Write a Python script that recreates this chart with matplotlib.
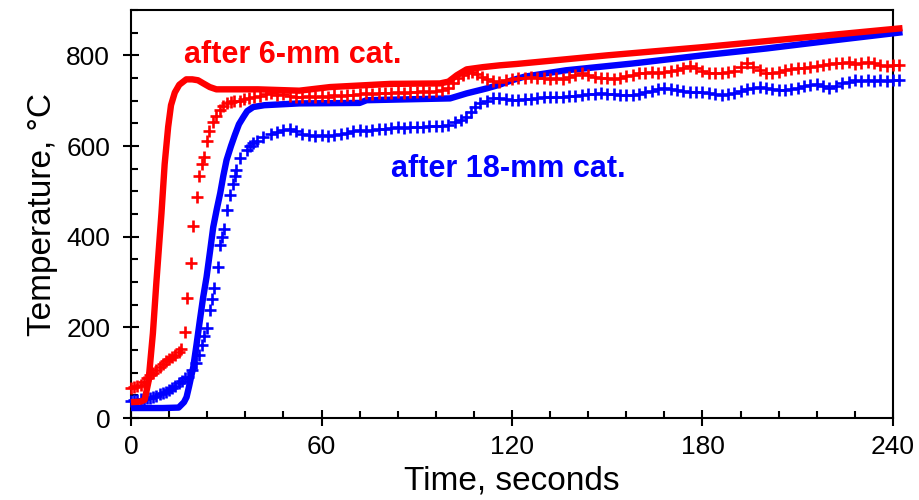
import matplotlib
matplotlib.use("Agg")
import matplotlib.pyplot as plt
from matplotlib.ticker import MultipleLocator

plt.rcParams['font.family'] = ['Liberation Sans', 'DejaVu Sans']

# ---- data (time in s, temperature in C) ----
red_line_t = [0, 3, 4.3, 5.5, 6.9, 8, 9.6, 10.6, 11.7, 12.6, 13.8, 15.2, 17.4, 19.3, 21.1, 22.8, 24.8, 26.9,
              40, 53, 62.7, 81.6, 97.3, 100, 102.6, 105.7, 110.9, 116.2, 121.5, 150, 180, 210, 243]
red_line_T = [35, 36, 40, 80, 187, 300, 452, 560, 642, 690, 718, 735, 747, 747, 745, 738, 730, 725,
              725, 722, 730, 737, 738, 742, 756, 769, 774, 778, 781, 800, 818, 838, 860]

blue_line_t = [0, 5, 10, 15, 16.7, 17.5, 18.3, 19.6, 20.6, 21.7, 22.7, 23.8, 24.9, 25.9, 27, 28.1, 29.1,
               30.1, 31.5, 32.7, 34, 35.4, 36.6, 38.5, 42, 53, 72, 74.2, 100.5, 105.7, 112, 116, 120,
               124, 137, 158, 180, 200, 220, 243]
blue_line_T = [22, 22, 22, 23, 35, 46, 70, 112, 160, 216, 265, 311, 368, 421, 460, 496, 535,
               569, 600, 624, 648, 664, 677, 686, 690, 694, 695, 701, 705, 716, 727, 735, 745,
               753, 767, 782, 800, 815, 832, 851]

red_plus_t = [0, 1, 2, 3, 4, 5, 6, 7, 8, 9, 10, 11, 12, 13, 14, 15, 15.9, 16.9, 17.6, 18.8, 19.4, 20.8,
              21.3, 22.3, 23.0, 23.8, 24.6, 25.9, 26.9, 28.0, 29.1, 30.1, 31.5, 32.5, 34.2, 35.6, 37.1,
              38.6, 40.6, 42.6,
              44, 46, 48, 50, 52, 54, 56, 58, 60, 62, 64, 66, 68, 70, 72, 74, 76, 78, 80, 82, 84, 86,
              88, 90, 92, 94, 96, 98, 100, 101.5, 103, 104.5, 106, 107.5, 109, 110.5, 112, 114, 116,
              118, 120, 122, 124, 126, 128, 130, 132, 134, 136, 138, 140, 142, 144, 146, 148, 150,
              152, 154, 156, 158, 160, 162, 164, 166, 168, 170, 172, 174, 176, 178, 180, 182, 184,
              186, 188, 190, 192, 194, 196, 198, 200, 202, 204, 206, 208, 210, 212, 214, 216, 218,
              220, 222, 224, 226, 228, 230, 232, 234, 236, 238, 240, 242]
red_plus_T = [66, 68, 70, 72, 80, 88, 95, 100, 106, 113, 120, 125, 130, 135, 140, 146, 152, 190, 264,
              343, 423, 487, 533, 560, 575, 610, 632, 652, 667, 679, 688, 694, 697, 699, 700, 703, 706,
              708, 711, 714,
              716, 713, 714, 710, 708, 709, 711, 708, 711, 709, 712, 710, 712, 713, 714, 716, 714,
              717, 716, 718, 719, 717, 720, 719, 721, 720, 722, 723, 728, 740, 750, 756, 761, 763,
              758, 752, 748, 744, 742, 745, 748, 750, 751, 752, 749, 751, 748, 750, 748, 752, 756,
              760, 756, 752, 749, 750, 748, 751, 754, 757, 760, 762, 763, 760, 763, 765, 768, 772,
              776, 772, 766, 762, 760, 762, 763, 766, 775, 782, 775, 767, 762, 760, 764, 767, 769,
              771, 772, 774, 776, 778, 780, 782, 784, 785, 781, 783, 785, 782, 779, 777, 778, 778]

blue_plus_t = [0, 1, 2, 3, 4, 5, 6, 7, 8, 9, 10, 11, 12, 13, 14, 15, 16, 17, 18, 19.3, 20.6, 21.5,
               22.3, 23.0, 23.8, 24.9, 25.6, 26.2, 27.3, 28.1, 28.7, 29.4, 30.1, 31.2, 32.0, 32.6,
               33.2, 34.4, 36.4, 37.4, 38.5, 39.7, 41.6,
               44, 46, 48, 50, 52, 54, 56, 58, 60, 62, 64, 66, 68, 70, 72, 74, 76, 78, 80, 82, 84, 86,
               88, 90, 92, 94, 96, 98, 100, 102, 104, 105.5, 107, 108.5, 110, 112, 114, 116, 118, 120,
               122, 124, 126, 128, 130, 132, 134, 136, 138, 140, 142, 144, 146, 148, 150, 152, 154,
               156, 158, 160, 162, 164, 166, 168, 170, 172, 174, 176, 178, 180, 182, 184, 186, 188,
               190, 192, 194, 196, 198, 200, 202, 204, 206, 208, 210, 212, 214, 216, 218, 220, 222,
               224, 226, 228, 230, 232, 234, 236, 238, 240, 242]
blue_plus_T = [38, 40, 40, 42, 43, 44, 45, 46, 49, 52, 55, 58, 61, 66, 71, 77, 82, 88, 91, 105, 121,
               140, 161, 180, 198, 238, 262, 286, 333, 381, 400, 418, 458, 491, 516, 533, 547, 573,
               591, 599, 606, 612, 619,
               627, 631, 635, 638, 632, 626, 624, 623, 624, 623, 624, 626, 628, 632, 635, 634, 636,
               637, 638, 640, 642, 640, 641, 643, 642, 644, 645, 645, 646, 652, 658, 664, 674, 685,
               694, 700, 705, 705, 703, 701, 701, 703, 704, 706, 707, 708, 707, 709, 710, 711, 713,
               714, 715, 716, 715, 714, 713, 712, 712, 715, 719, 722, 725, 727, 725, 723, 721, 720,
               719, 719, 717, 714, 712, 714, 718, 722, 726, 729, 730, 728, 726, 724, 723, 726, 729,
               732, 735, 737, 732, 728, 733, 738, 742, 745, 744, 745, 744, 745, 744, 745, 745]

x_ticks = [0, 60, 120, 180, 240]
y_ticks = [0, 200, 400, 600, 800]
label_6mm = "after 6-mm cat."
label_18mm = "after 18-mm cat."

RED = "#ff0000"
BLUE = "#0000ff"

fig = plt.figure(figsize=(9.2, 5.0), dpi=100)
ax = fig.add_axes([131/920, 82/500, 762/920, 408/500])

ax.plot(blue_line_t, blue_line_T, color=BLUE, lw=4.6, solid_capstyle='butt', clip_on=False, zorder=3)
ax.plot(blue_plus_t, blue_plus_T, ls='none', marker='+', ms=8.5, mew=1.9, color=BLUE, clip_on=False, zorder=4)
ax.plot(red_line_t, red_line_T, color=RED, lw=4.6, solid_capstyle='butt', clip_on=False, zorder=5)
ax.plot(red_plus_t, red_plus_T, ls='none', marker='+', ms=8.5, mew=1.9, color=RED, clip_on=False, zorder=6)

ax.set_xlim(0, 240)
ax.set_ylim(0, 900)
ax.set_xticks(x_ticks)
ax.set_yticks(y_ticks)
ax.xaxis.set_minor_locator(MultipleLocator(12))
ax.yaxis.set_minor_locator(MultipleLocator(50))
ax.tick_params(which='major', direction='inout', length=12, width=1.5, labelsize=19, colors='black')
ax.tick_params(axis='x', which='major', pad=6)
ax.tick_params(axis='y', which='major', pad=9)
ax.tick_params(which='minor', direction='in', length=5, width=1.5)
for s in ax.spines.values():
    s.set_linewidth(1.5)

ax.set_xlabel("Time, seconds", fontsize=24, labelpad=5)
ax.set_ylabel("Temperature, °C", fontsize=24, labelpad=6)

ax.text(16.7, 784, label_6mm, color=RED, fontsize=22, fontweight='bold', ha='left', va='baseline')
ax.text(82, 531, label_18mm, color=BLUE, fontsize=22, fontweight='bold', ha='left', va='baseline')

fig.savefig("out.png", dpi=100)
